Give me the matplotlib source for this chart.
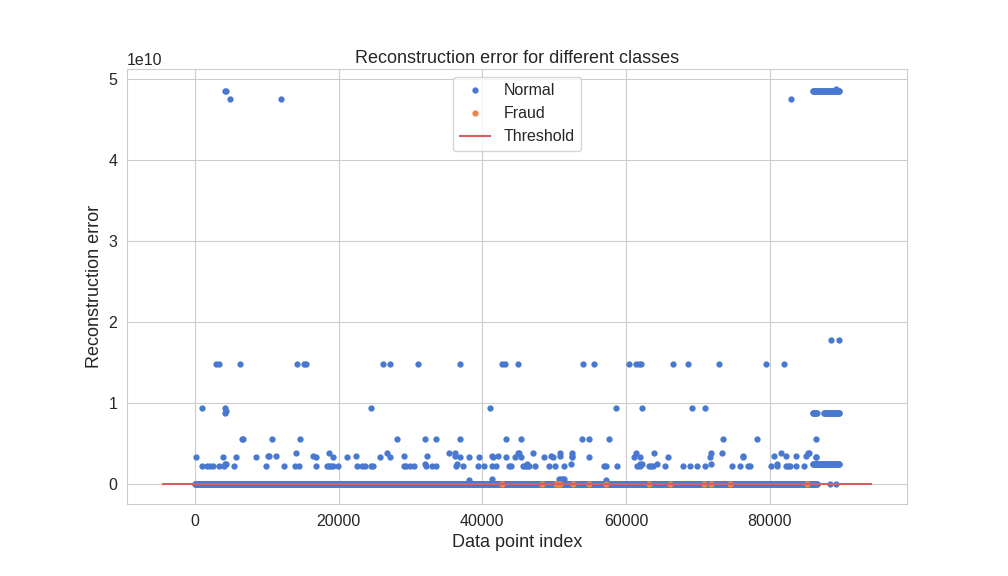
import numpy as np
import matplotlib
matplotlib.use("Agg")
import matplotlib.pyplot as plt
import seaborn as sns

# ---------------- data (reconstruction error in units of 1e10) ----------------
ERR_UNIT = 1e10
threshold = 0.005

# dense contiguous index runs (index start, index end, error level)
base_run = (0, 86600, 0.0)
top_run = (85950, 89700, 4.86)
run_088_a = (85950, 86600, 0.885)
run_088_b = (87480, 89700, 0.885)
run_026 = (85950, 89700, 0.255)

# isolated normal points by level
idx_486 = [4280, 4330, 89140]
err_486 = [4.86, 4.85, 4.88]
idx_475 = [4840, 12010, 82890]
idx_178 = [88450, 89650]
idx_148 = [3030, 3400, 6230, 14280, 15260, 15490, 26230, 27200, 31000, 36920,
           42670, 43180, 44980, 54010, 55540, 60400, 61370, 61830, 62020,
           66510, 68590, 72900, 79520, 81920]
idx_094 = [950, 4280, 24560, 41090, 58590, 62200, 69150, 70950]
idx_089 = [4280, 4350]
idx_057 = [6530, 6670, 10810, 14700, 28170, 32060, 33590, 36920, 43310, 45400,
           53870, 54840, 57620, 73450, 78180, 86410]
idx_039 = [14150, 18730, 26790, 35400, 36230, 44900, 45050, 47060, 50810,
           52480, 61370, 63870, 71790, 73320, 81510, 85260, 85420]
idx_035 = [10250, 10350, 11370, 16460, 22480, 29150, 32340, 36230, 41370,
           42200, 49560, 50810, 52480, 76230, 80540, 82200, 83590, 84980]
idx_033 = [120, 3870, 5810, 8590, 16880, 19280, 21230, 25810, 27200, 36920,
           38170, 39560, 41510, 43310, 44560, 45400, 48590, 49840, 52480,
           54840, 61090, 61880, 65820, 71650, 76230, 86350, 86480]
idx_026 = [4200, 4300, 32060, 36510, 46230, 52340, 61930, 62200, 64290, 71790,
           80960]
idx_023 = [950, 1640, 2060, 2480, 3310, 4140, 5530, 9980, 12480, 14010, 14560,
           16920, 18450, 18730, 19010, 19280, 19980, 22620, 23310, 23730,
           24560, 24840, 29150, 29420, 29980, 30540, 32200, 33040, 33590,
           36370, 37340, 39420, 40260, 41370, 41920, 43730, 44010, 45680,
           45950, 46230, 46510, 47340, 49290, 50120, 51370, 56930, 57200,
           58730, 61510, 61880, 63180, 63450, 63730, 65400, 67900, 68870,
           69840, 70950, 74700, 75820, 76930, 77200, 80120, 80960, 82210,
           82480, 82760, 83590, 84710]
idx_007 = [41370, 50700, 50950, 51200, 51370]
idx_006 = [38170, 57200]
idx_000 = [88410, 89150]

# fraud points
fraud_idx = [42760, 48310, 50250, 50450, 50650, 50810, 52620, 54840, 57200,
             63180, 66090, 70820, 71790, 74430, 85120]
fraud_err = [0.0] * len(fraud_idx)

# ---------------- assemble ----------------
def run(r, step=100):
    x = np.arange(r[0], r[1] + 1, step)
    return x, np.full(len(x), r[2])

xs, ys = [], []
for r in (base_run, top_run, run_088_a, run_088_b, run_026):
    x, y = run(r)
    xs.append(x); ys.append(y)
singles = [(idx_486, err_486), (idx_475, [4.76] * len(idx_475)),
           (idx_178, [1.775] * len(idx_178)), (idx_148, [1.478] * len(idx_148)),
           (idx_094, [0.935] * len(idx_094)), (idx_089, [0.885, 0.9]),
           (idx_057, [0.564] * len(idx_057)), (idx_039, [0.39] * len(idx_039)),
           (idx_035, [0.354] * len(idx_035)), (idx_033, [0.33] * len(idx_033)),
           (idx_026, [0.255] * len(idx_026)), (idx_023, [0.231] * len(idx_023)),
           (idx_007, [0.07] * len(idx_007)), (idx_006, [0.058] * len(idx_006)),
           (idx_000, [0.0] * len(idx_000))]
for ix, ev in singles:
    xs.append(np.asarray(ix)); ys.append(np.asarray(ev))
normal_x = np.concatenate(xs)
normal_y = np.concatenate(ys) * ERR_UNIT
order = np.argsort(normal_x, kind="stable")
normal_x, normal_y = normal_x[order], normal_y[order]

# ---------------- plot ----------------
sns.set_style("whitegrid")
sns.set_palette("muted")
sns.set_color_codes("muted")
plt.rcParams['font.family'] = ['Liberation Sans', 'DejaVu Sans']
plt.rcParams['text.color'] = '.15'
plt.rcParams['axes.labelcolor'] = '.15'
plt.rcParams['xtick.color'] = '.15'
plt.rcParams['ytick.color'] = '.15'

fig = plt.figure(figsize=(10.08, 5.76), dpi=100)
ax = fig.add_axes([0.126, 0.125, 0.774, 0.755])

ax.plot(normal_x, normal_y, marker='o', ms=3.5, linestyle='', label='Normal')
ax.plot(fraud_idx, np.asarray(fraud_err) * ERR_UNIT, marker='o', ms=3.5,
        linestyle='', label='Fraud')
ax.hlines(threshold * ERR_UNIT, ax.get_xlim()[0], ax.get_xlim()[1], colors='r',
          zorder=100, label='Threshold')

ax.tick_params(labelsize=11.5)
ax.yaxis.get_offset_text().set_fontsize(11.5)
ax.legend(loc='upper center', fontsize=11.5)
ax.set_title("Reconstruction error for different classes", fontsize=13, pad=4.5)
ax.set_ylabel("Reconstruction error", fontsize=13)
ax.set_xlabel("Data point index", fontsize=13, labelpad=3.5)

fig.savefig("out.png", dpi=100)
